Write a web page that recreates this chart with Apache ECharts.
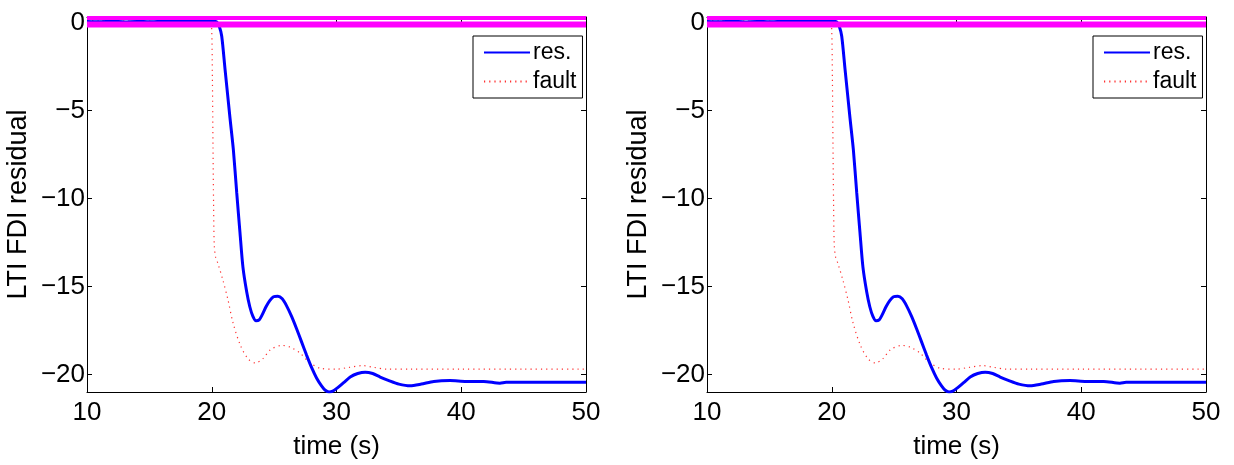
<!DOCTYPE html>
<html>
<head>
<meta charset="utf-8">
<script src="https://cdn.jsdelivr.net/npm/echarts@6/dist/echarts.min.js"></script>
<style>html,body{margin:0;padding:0;background:#fff}#c{width:1234px;height:465px}</style>
</head>
<body>
<div id="c"></div>
<script>
// ---- data ----
var resTime = [10, 11, 12, 13, 14, 15, 16, 17, 18, 19, 20, 20.4, 20.6, 20.8, 21.06, 21.46, 21.73, 22.0, 22.26, 22.5, 22.8, 23.05, 23.3, 23.55, 23.8, 24.05, 24.35, 24.65, 24.95, 25.3, 25.65, 26.0, 26.4, 26.8, 27.2, 27.6, 28.0, 28.4, 28.8, 29.1, 29.4, 29.7, 30.1, 30.6, 31.1, 31.7, 32.3, 32.9, 33.5, 34.2, 35.0, 35.9, 36.8, 37.8, 39.1, 40.4, 41.8, 43.1, 43.6, 45, 47, 50];
var resValues = [0.08, 0.06, 0.1, 0.05, 0.08, 0.06, 0.1, 0.12, 0.1, 0.14, 0.12, 0.05, -0.2, -0.76, -2.6, -5.4, -7.2, -9.65, -11.9, -13.9, -15.3, -16.15, -16.7, -16.95, -16.9, -16.6, -16.15, -15.8, -15.58, -15.55, -15.7, -16.1, -16.7, -17.4, -18.15, -18.9, -19.6, -20.2, -20.65, -20.9, -21.0, -20.95, -20.75, -20.45, -20.15, -19.95, -19.87, -19.95, -20.15, -20.35, -20.55, -20.65, -20.55, -20.4, -20.35, -20.4, -20.4, -20.5, -20.45, -20.45, -20.45, -20.45];
var faultTime = [10, 11, 12, 13, 14, 15, 16, 17, 18, 19, 19.9, 20.0, 20.05, 20.1, 20.15, 20.2, 20.3, 20.5, 20.9, 21.3, 21.7, 22.3, 22.9, 23.5, 24.1, 24.7, 25.6, 26.3, 27.1, 27.8, 28.7, 30, 31, 32.1, 33, 34, 36, 40, 45, 50];
var faultValues = [0.1, 0.15, 0.05, 0.12, 0.08, 0.1, 0.06, 0.12, 0.1, 0.08, 0.05, -0.5, -3, -7, -10.5, -12.6, -13.3, -13.7, -14.65, -15.75, -17.05, -18.35, -19.1, -19.35, -19.1, -18.6, -18.35, -18.45, -18.8, -19.3, -19.65, -19.7, -19.6, -19.5, -19.6, -19.7, -19.7, -19.7, -19.7, -19.7];
var thresholdLevels = [0.28, -0.09];
var yTicks = [0, -5, -10, -15, -20];
var seriesNames = ['res.', 'fault'];
var xTitle = 'time (s)';
var yTitle = 'LTI FDI residual';

function pairs(t, v) { return t.map(function (x, i) { return [x, v[i]]; }); }

var FONT = 'Liberation Sans';
var gridLefts = [87, 707];
var option = {
  animation: false,
  backgroundColor: '#fff',
  grid: [], xAxis: [], yAxis: [], series: [], legend: []
};
gridLefts.forEach(function (gl, g) {
  option.grid.push({ left: gl, top: 17, width: 499, height: 384, containLabel: false });
  var tickStyle = { show: true, inside: true, length: 5, lineStyle: { color: '#000', width: 1 } };
  var lineStyle = { show: true, onZero: false, lineStyle: { color: '#000', width: 1 } };
  option.xAxis.push({
    type: 'value', gridIndex: g, min: 10, max: 50, interval: 10, position: 'bottom',
    axisLine: lineStyle, axisTick: tickStyle, splitLine: { show: false },
    axisLabel: { color: '#000', fontFamily: FONT, fontSize: 26, margin: 8 },
    name: xTitle, nameLocation: 'middle', nameGap: 42,
    nameTextStyle: { color: '#000', fontFamily: FONT, fontSize: 26 }
  });
  option.xAxis.push({
    type: 'value', gridIndex: g, min: 10, max: 50, interval: 10, position: 'top',
    axisLine: lineStyle, axisTick: tickStyle, splitLine: { show: false }, axisLabel: { show: false }
  });
  option.yAxis.push({
    type: 'value', gridIndex: g, min: -21, max: 0.333, position: 'left',
    axisLine: lineStyle,
    axisTick: Object.assign({ customValues: yTicks }, tickStyle),
    splitLine: { show: false },
    axisLabel: {
      customValues: yTicks, color: '#000', fontFamily: FONT, fontSize: 26, margin: 2,
      formatter: function (v) { return v < 0 ? '\u2212' + Math.abs(v) : String(v); }
    },
    name: yTitle, nameLocation: 'middle', nameGap: 55, nameRotate: 90,
    nameTextStyle: { color: '#000', fontFamily: FONT, fontSize: 27 }
  });
  option.yAxis.push({
    type: 'value', gridIndex: g, min: -21, max: 0.333, position: 'right',
    axisLine: lineStyle,
    axisTick: Object.assign({ customValues: yTicks }, tickStyle),
    splitLine: { show: false }, axisLabel: { show: false }
  });
  var xi = g * 2, yi = g * 2;
  option.series.push({
    name: seriesNames[0], type: 'line', xAxisIndex: xi, yAxisIndex: yi,
    data: pairs(resTime, resValues), symbol: 'none', smooth: 0.25,
    lineStyle: { color: '#0000ff', width: 3 }, itemStyle: { color: '#0000ff' }, z: 3
  });
  option.series.push({
    name: seriesNames[1], type: 'line', xAxisIndex: xi, yAxisIndex: yi,
    data: pairs(faultTime, faultValues), symbol: 'none', smooth: 0.3,
    lineStyle: { color: '#ff3030', width: 1.2, type: [1.2, 4] }, itemStyle: { color: '#ff0000' }, z: 2
  });
  thresholdLevels.forEach(function (lv, k) {
    option.series.push({
      type: 'line', xAxisIndex: xi, yAxisIndex: yi,
      data: [[10, lv], [50, lv]], symbol: 'none', silent: true,
      lineStyle: { color: '#ff00ff', width: k === 0 ? 4 : 6 }, z: 4
    });
  });
  option.legend.push({
    data: [
      { name: seriesNames[0] },
      { name: seriesNames[1] }
    ],
    orient: 'vertical', left: gl + 386, top: 36,
    backgroundColor: '#fff', borderColor: '#000', borderWidth: 1,
    padding: [5, 6, 5, 10], itemGap: 6, itemWidth: 46, itemHeight: 22,
    selectedMode: false,
    itemStyle: { color: 'rgba(0,0,0,0)', borderColor: 'rgba(0,0,0,0)', borderWidth: 0 },
    textStyle: { color: '#000', fontFamily: FONT, fontSize: 23, padding: [0, 0, 0, -2] }
  });
});
var chart = echarts.init(document.getElementById('c'), null, { renderer: 'canvas' });
chart.setOption(option);
</script>
</body>
</html>
